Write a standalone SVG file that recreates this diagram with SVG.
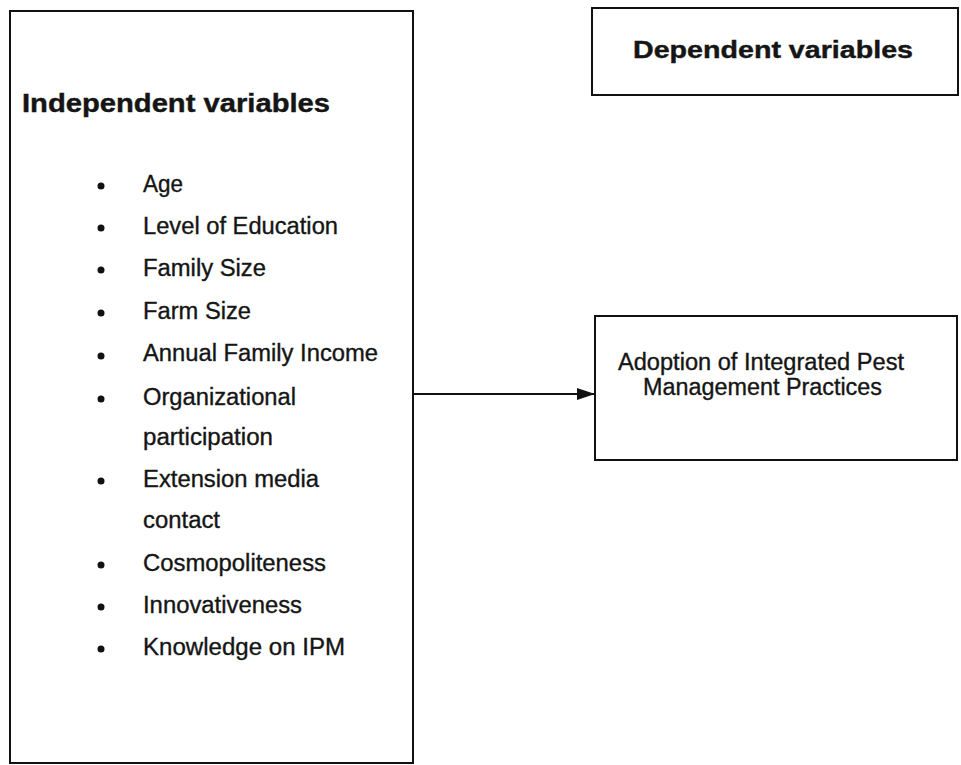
<svg xmlns="http://www.w3.org/2000/svg" width="961" height="765" viewBox="0 0 961 765">
<defs>
<style>
.box{fill:#fff;stroke:#111;stroke-width:2}
.t{font-family:"Liberation Sans",Arial,sans-serif;fill:#151515}
.h{font-weight:bold;font-size:25px;stroke:#151515;stroke-width:0.4}
.h2{font-weight:bold;font-size:23px;stroke:#151515;stroke-width:0.4}
.i{font-size:23px;stroke:#151515;stroke-width:0.35}
.c{fill:#111}
</style>
<marker id="arr" markerWidth="18" markerHeight="12" refX="18" refY="6" orient="auto" markerUnits="userSpaceOnUse">
<path d="M0,0 L18,6 L0,12 Z" fill="#111"/>
</marker>
</defs>
<rect width="961" height="765" fill="#fff"/>
<g id="independent">
<rect class="box" x="10" y="11" width="403" height="752"/>
<text class="t h" x="22" y="112" textLength="308" lengthAdjust="spacingAndGlyphs">Independent variables</text>
<g class="c">
<circle cx="101" cy="186" r="3.5"/>
<circle cx="101" cy="228" r="3.5"/>
<circle cx="101" cy="270" r="3.5"/>
<circle cx="101" cy="313" r="3.5"/>
<circle cx="101" cy="356" r="3.5"/>
<circle cx="101" cy="399" r="3.5"/>
<circle cx="101" cy="481" r="3.5"/>
<circle cx="101" cy="565" r="3.5"/>
<circle cx="101" cy="607" r="3.5"/>
<circle cx="101" cy="649" r="3.5"/>
</g>
<text class="t i" x="143" y="192" textLength="40" lengthAdjust="spacingAndGlyphs">Age</text>
<text class="t i" x="143" y="234" textLength="195" lengthAdjust="spacingAndGlyphs">Level of Education</text>
<text class="t i" x="143" y="276" textLength="123" lengthAdjust="spacingAndGlyphs">Family Size</text>
<text class="t i" x="143" y="319" textLength="108" lengthAdjust="spacingAndGlyphs">Farm Size</text>
<text class="t i" x="143" y="361" textLength="235" lengthAdjust="spacingAndGlyphs">Annual Family Income</text>
<text class="t i" x="143" y="405" textLength="153" lengthAdjust="spacingAndGlyphs">Organizational</text>
<text class="t i" x="143" y="445" textLength="130" lengthAdjust="spacingAndGlyphs">participation</text>
<text class="t i" x="143" y="487" textLength="176" lengthAdjust="spacingAndGlyphs">Extension media</text>
<text class="t i" x="143" y="528" textLength="77" lengthAdjust="spacingAndGlyphs">contact</text>
<text class="t i" x="143" y="571" textLength="183" lengthAdjust="spacingAndGlyphs">Cosmopoliteness</text>
<text class="t i" x="143" y="613" textLength="159" lengthAdjust="spacingAndGlyphs">Innovativeness</text>
<text class="t i" x="143" y="655" textLength="202" lengthAdjust="spacingAndGlyphs">Knowledge on IPM</text>
</g>
<g id="dependent">
<rect class="box" x="592" y="8" width="366" height="87"/>
<text class="t h2" x="633" y="58" textLength="280" lengthAdjust="spacingAndGlyphs">Dependent variables</text>
</g>
<g id="adoption">
<rect class="box" x="595" y="316" width="362" height="144"/>
<text class="t i" x="618" y="370" textLength="286" lengthAdjust="spacingAndGlyphs">Adoption of Integrated Pest</text>
<text class="t i" x="643" y="395" textLength="239" lengthAdjust="spacingAndGlyphs">Management Practices</text>
</g>
<g id="connectors">
<line x1="413" y1="394" x2="595" y2="394" stroke="#111" stroke-width="2" marker-end="url(#arr)"/>
</g>
</svg>
